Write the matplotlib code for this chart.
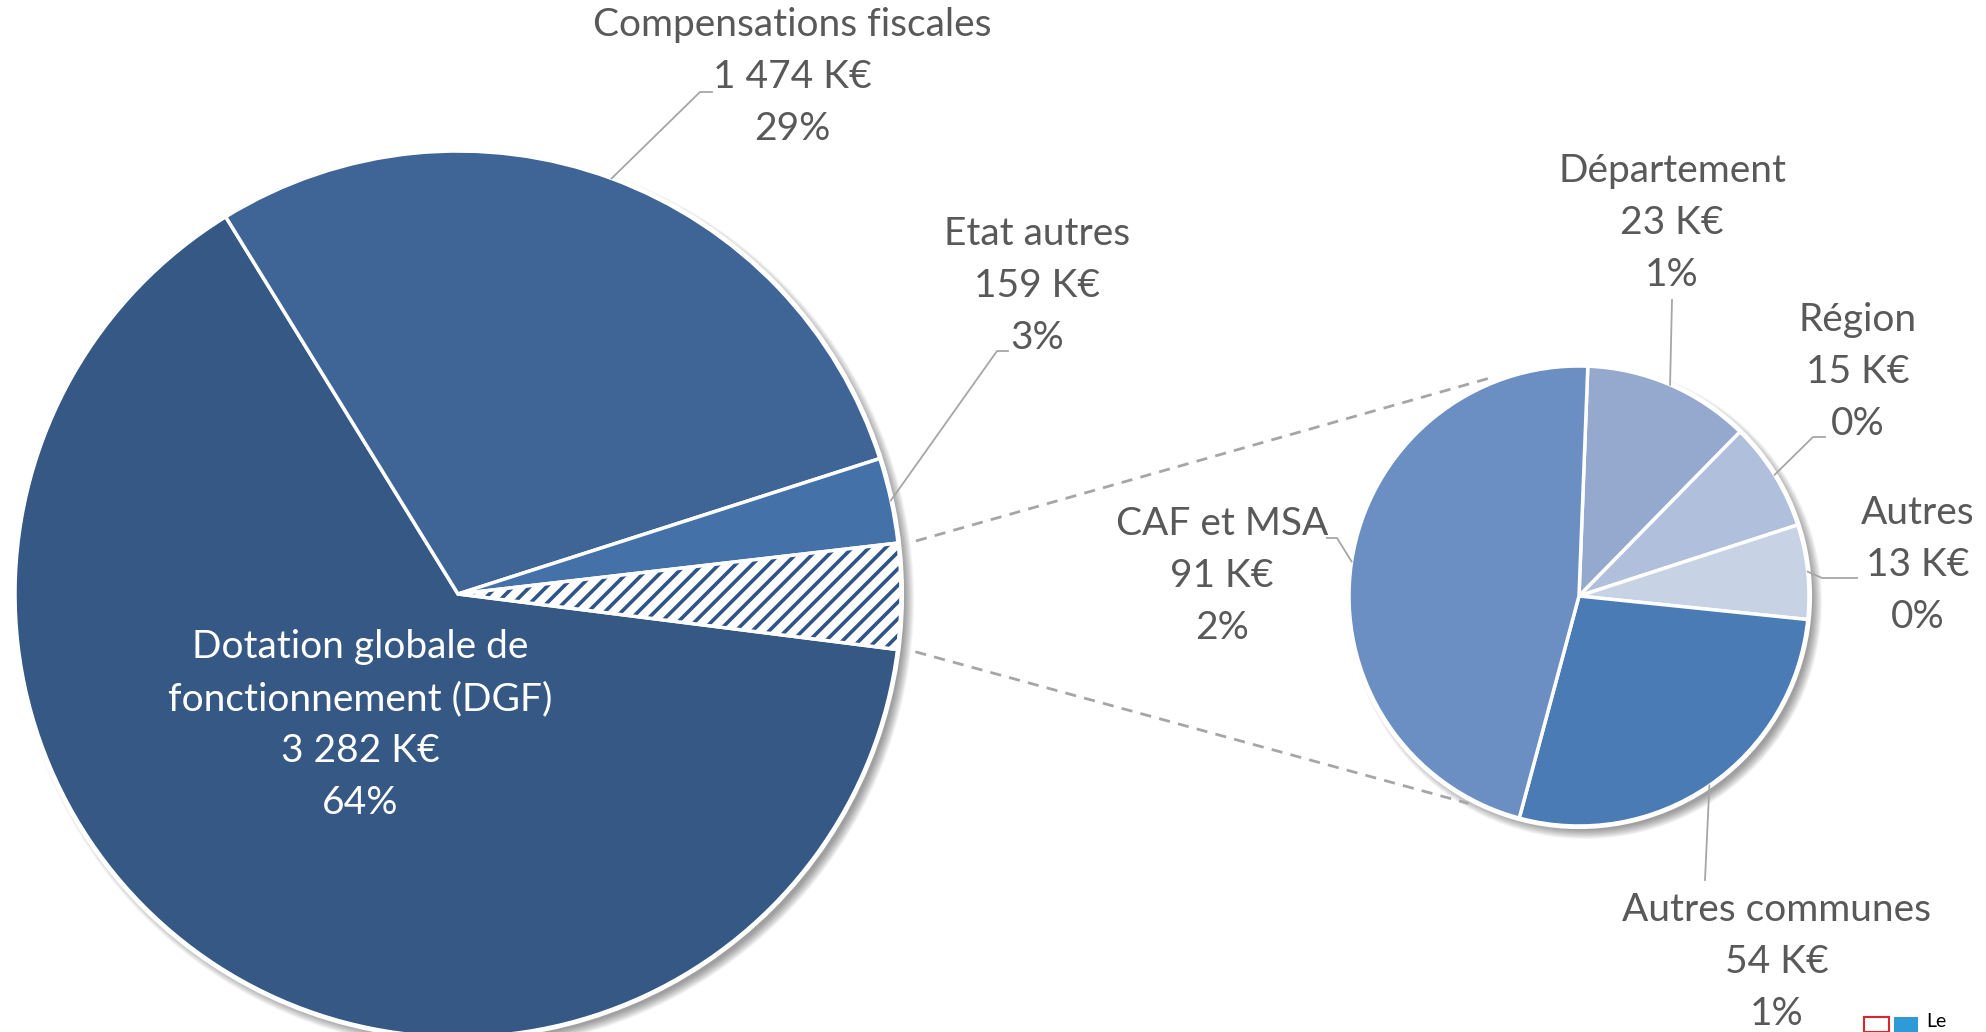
import numpy as np
import matplotlib
matplotlib.use("Agg")
import matplotlib.pyplot as plt
from matplotlib.patches import Circle, Wedge, Rectangle

# ---------------- data ----------------
main_labels = ["Dotation globale de\nfonctionnement (DGF)", "Compensations fiscales", "Etat autres", "Autres"]
main_values = [3282, 1474, 159, 196]
main_pcts = ["64%", "29%", "3%", None]

sub_labels = ["Département", "Région", "Autres", "Autres communes", "CAF et MSA"]
sub_values = [23, 15, 13, 54, 91]
sub_pcts = ["1%", "0%", "0%", "1%", "2%"]

main_colors = ["#365884", "#3E6596", "#4472A8", "#FFFFFF"]
hatch_color = "#2F5487"
sub_colors = ["#95A9CF", "#B0C0DC", "#C8D2E5", "#4A7BB5", "#6B8FC2"]

TEXT = "#595959"
FONT = "Lato"
FS = 28

W, H = 1986, 1032
plt.rcParams['hatch.linewidth'] = 2.6
fig = plt.figure(figsize=(W / 100, H / 100), dpi=100)
ax = fig.add_axes([0, 0, 1, 1])


def P(x, y):
    return (x, H - y)


C1, R1 = P(458, 594), 443
C2, R2 = P(1579, 596), 230


def shadow(c, r):
    for k in range(10):
        ax.add_patch(Circle((c[0] + 6, c[1] - 6), r + 7 - k, color="#000000",
                            alpha=0.045, lw=0, zorder=0))


shadow(C1, R1)
shadow(C2, R2)

w1, _ = ax.pie(main_values, colors=main_colors, startangle=-7.2, counterclock=False,
               center=C1, radius=R1, frame=True,
               wedgeprops=dict(edgecolor="white", linewidth=2.5))
for w in w1:
    w.set_zorder(2)
hw = w1[3]
hw.set_hatch("//")
hw.set_edgecolor(hatch_color)
hw.set_linewidth(0)
ax.add_patch(Wedge(C1, R1, hw.theta1, hw.theta2, facecolor="none",
                   edgecolor="white", linewidth=2.5, zorder=3))
ax.add_patch(Circle(C1, R1 + 1, facecolor="none", edgecolor="white", lw=3, zorder=3))

w2, _ = ax.pie(sub_values, colors=sub_colors, startangle=87.8, counterclock=False,
               center=C2, radius=R2, frame=True,
               wedgeprops=dict(edgecolor="white", linewidth=2.5))
for w in w2:
    w.set_zorder(2)
ax.add_patch(Circle(C2, R2 + 1, facecolor="none", edgecolor="white", lw=3, zorder=3))


def edge_pt(c, r, ang):
    a = np.deg2rad(ang)
    return np.array([c[0] + r * np.cos(a), c[1] + r * np.sin(a)])


def mid(w):
    return (w.theta1 + w.theta2) / 2


def leader(start, pts):
    xs = [start[0]] + [P(*p)[0] for p in pts]
    ys = [start[1]] + [P(*p)[1] for p in pts]
    ax.plot(xs, ys, color="#A6A6A6", lw=1.3, zorder=4)


def block(lines, cx, y0, color=TEXT, pitch=52):
    for i, s in enumerate(lines):
        ax.text(*P(cx, y0 + i * pitch), s, ha="center", va="center",
                fontsize=FS, color=color, family=FONT, zorder=5)


def kfmt(v):
    s = f"{v:,}".replace(",", " ")
    return f"{s} K€"


# series (connector) lines between the two pies
a_hi, a_lo = hw.theta2, hw.theta1
for a_big, a_small in [(a_hi, 111), (a_lo, 242)]:
    p0 = edge_pt(C1, R1 + 18, a_big)
    p1 = edge_pt(C2, R2 + 5, a_small)
    ax.plot([p0[0], p1[0]], [p0[1], p1[1]], color="#A6A6A6", lw=2, ls=(0, (4, 3)), zorder=1)

# main pie labels
block(["Dotation globale de", "fonctionnement (DGF)", kfmt(main_values[0]), main_pcts[0]],
      360, 647, color="white")
block([main_labels[1], kfmt(main_values[1]), main_pcts[1]], 792, 25)
leader(edge_pt(C1, R1, mid(w1[1])), [(700, 92), (712, 92)])
block([main_labels[2], kfmt(main_values[2]), main_pcts[2]], 1037, 234)
leader(edge_pt(C1, R1, mid(w1[2])), [(997, 351), (1008, 351)])

# sub pie labels
block([sub_labels[0], kfmt(sub_values[0]), sub_pcts[0]], 1672, 171)
leader(edge_pt(C2, R2, mid(w2[0])), [(1672, 300)])
block([sub_labels[1], kfmt(sub_values[1]), sub_pcts[1]], 1858, 320)
leader(edge_pt(C2, R2, mid(w2[1])), [(1813, 437), (1825, 437)])
block([sub_labels[2], kfmt(sub_values[2]), sub_pcts[2]], 1918, 513)
leader(edge_pt(C2, R2, mid(w2[2])), [(1822, 578), (1857, 578)])
block([sub_labels[3], kfmt(sub_values[3]), sub_pcts[3]], 1777, 910)
leader(edge_pt(C2, R2, mid(w2[3])), [(1705, 880)])
block([sub_labels[4], kfmt(sub_values[4]), sub_pcts[4]], 1222, 524)
leader(edge_pt(C2, R2, mid(w2[4])), [(1337, 538), (1327, 538)])

# partial logo in bottom-right corner
ax.add_patch(Rectangle(P(1864, 1032), 25, 15, facecolor="white", edgecolor="#D9262C", lw=1.5, zorder=5))
ax.add_patch(Rectangle(P(1894, 1032), 24, 15, facecolor="#2E9AD8", edgecolor="none", zorder=5))
ax.text(*P(1926, 1030), "Le", ha="left", va="bottom", fontsize=14, color="black",
        family=FONT, zorder=5)

ax.set_xlim(0, W)
ax.set_ylim(0, H)
ax.set_aspect("auto")
ax.axis("off")
fig.savefig("out.png", dpi=100, facecolor="white")
